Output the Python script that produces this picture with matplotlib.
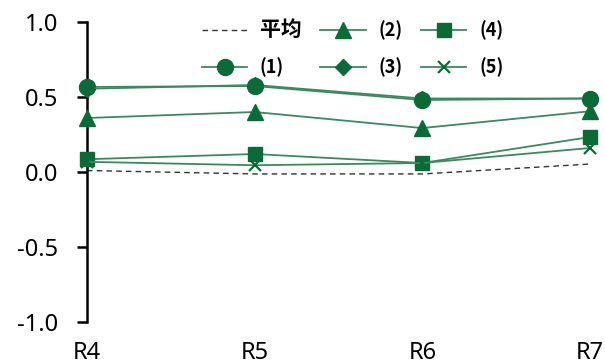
import matplotlib
matplotlib.use("Agg")
import matplotlib.pyplot as plt

categories = ["R4", "R5", "R6", "R7"]
avg = [0.010, -0.013, -0.013, 0.053]
s1 = [0.567, 0.573, 0.480, 0.490]
s2 = [0.360, 0.400, 0.293, 0.405]
s3 = [0.555, 0.580, 0.490, 0.490]
s4 = [0.085, 0.120, 0.060, 0.233]
s5 = [0.068, 0.045, 0.060, 0.160]
yticks = [-1.0, -0.5, 0.0, 0.5, 1.0]
ytick_labels = ["-1.0", "-0.5", "0.0", "0.5", "1.0"]

series = [("(1)", s1, "o", 11.5), ("(2)", s2, "^", 11), ("(3)", s3, "D", 8),
          ("(4)", s4, "s", 10.5), ("(5)", s5, "x", 9)]

line_c = "#3a8a5e"
mark_c = "#0b6b37"

fig = plt.figure(figsize=(6.05, 3.62), dpi=100)
ax = fig.add_axes([87/605, 40/362, (590-87)/605, 300/362])
x = list(range(len(categories)))

handles = []
h, = ax.plot(x, avg, linestyle=(0, (4, 3)), color="#333333", lw=1.0, label="平均", clip_on=False)
handles.append(h)
for name, vals, m, ms in series:
    h, = ax.plot(x, vals, color=line_c, lw=1.3, marker=m, markersize=ms,
                 markerfacecolor=mark_c, markeredgecolor=mark_c,
                 markeredgewidth=1.6 if m == "x" else 1.0,
                 label=name, clip_on=False, zorder=3)
    handles.append(h)

ax.set_xlim(0, 3)
ax.set_ylim(-1, 1)
ax.set_yticks(yticks)
ax.set_yticklabels(ytick_labels, fontfamily="Noto Sans", fontsize=17)
ax.set_xticks(x)
ax.set_xticklabels(categories, fontfamily="Noto Sans", fontsize=17)
for sp in ["top", "right", "bottom"]:
    ax.spines[sp].set_visible(False)
ax.spines["left"].set_linewidth(1.8)
ax.tick_params(axis="y", direction="out", length=7, width=1.8, pad=14)
ax.tick_params(axis="x", length=0, pad=14)

leg = fig.legend(handles=handles, ncol=3, loc="upper left",
                 bbox_to_anchor=(202/605, 1 - 19/362), frameon=False,
                 prop={"family": ["Noto Sans CJK SC", "DejaVu Sans"], "size": 13, "weight": "bold"},
                 handlelength=2.5, handletextpad=0.7, columnspacing=1.05,
                 labelspacing=0.95, borderpad=0, borderaxespad=0)
leg.get_texts()[0].set_fontsize(15)

fig.savefig("out.png", dpi=100)
